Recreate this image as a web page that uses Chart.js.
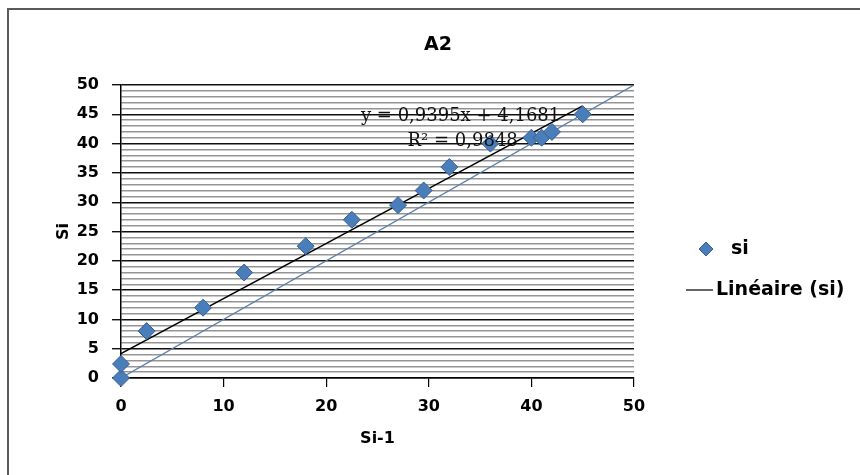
<!DOCTYPE html>
<html>
<head>
<meta charset="utf-8">
<script src="https://cdn.jsdelivr.net/npm/chart.js@4/dist/chart.umd.min.js"></script>
<style>
  html, body { margin: 0; padding: 0; background: #fff; }
  #wrap { position: relative; width: 860px; height: 475px; }
  #frame { position: absolute; left: 7px; top: 8px; right: 0; bottom: 0;
           border-left: 2px solid #5a5a5a; border-top: 2px solid #5a5a5a; pointer-events: none; }
</style>
</head>
<body>
<div id="wrap">
  <canvas id="c" width="860" height="475"></canvas>
  <div id="frame"></div>
</div>
<script>
// Observed pairs: previous value (Si-1) and current value (Si)
const siPrev = [0, 0, 2.5, 8, 12, 18, 22.5, 27, 29.5, 32, 36, 40, 41, 42, 45];
const siCur  = [0, 2.4, 8, 12, 18, 22.5, 27, 29.5, 32, 36, 40, 41, 41, 42, 45];

// Linear trend fitted to the series
const trendSlope = 0.9395;
const trendIntercept = 4.1681;
const trendR2 = 0.9848;

// Reference line Si = Si-1
const diagX = [0, 50];

const fmt = v => v.toFixed(4).replace('.', ',');
const eqText = 'y = ' + fmt(trendSlope) + 'x + ' + fmt(trendIntercept);
const r2Text = 'R² = ' + fmt(trendR2);

const scatterPts = siPrev.map((x, i) => ({ x: x, y: siCur[i] }));
const trendX = [Math.min(...siPrev), Math.max(...siPrev)];
const trendPts = trendX.map(x => ({ x: x, y: trendSlope * x + trendIntercept }));
const diagPts = diagX.map(x => ({ x: x, y: x }));

const tickFont = { family: 'DejaVu Sans', size: 16, weight: 'bold' };
const titleFont = { family: 'DejaVu Sans', size: 16, weight: 'bold' };
const markerFill = '#4a7ebb';
const markerEdge = '#385f8f';

// Chart title, trend equation and legend
const annotations = {
  id: 'annotations',
  afterDraw(chart) {
    const ctx = chart.ctx;
    const xs = chart.scales.x, ys = chart.scales.y;
    ctx.save();
    ctx.textBaseline = 'middle';

    ctx.fillStyle = '#000';
    ctx.textAlign = 'center';
    ctx.font = 'bold 19px "DejaVu Sans"';
    ctx.fillText('A2', 438, 45);

    ctx.fillStyle = '#111';
    ctx.font = '18px "DejaVu Serif"';
    ctx.fillText(eqText, xs.getPixelForValue(33.1), ys.getPixelForValue(44.7));
    ctx.fillText(r2Text, xs.getPixelForValue(33.3), ys.getPixelForValue(40.4));

    // legend
    const lx = 706, ly1 = 249, ly2 = 290;
    ctx.beginPath();
    ctx.moveTo(lx, ly1 - 7); ctx.lineTo(lx + 7, ly1); ctx.lineTo(lx, ly1 + 7); ctx.lineTo(lx - 7, ly1);
    ctx.closePath();
    ctx.fillStyle = markerFill; ctx.fill();
    ctx.strokeStyle = markerEdge; ctx.lineWidth = 1; ctx.stroke();
    ctx.beginPath();
    ctx.moveTo(686, ly2); ctx.lineTo(713, ly2);
    ctx.strokeStyle = '#000'; ctx.lineWidth = 1.2; ctx.stroke();
    ctx.fillStyle = '#000';
    ctx.font = 'bold 19px "DejaVu Sans"';
    ctx.textAlign = 'left';
    ctx.fillText('si', 731, ly1);
    ctx.fillText('Linéaire (si)', 716, ly2);
    ctx.restore();
  }
};

new Chart(document.getElementById('c'), {
  type: 'scatter',
  data: {
    datasets: [
      {
        label: 'Si = Si-1',
        type: 'line',
        data: diagPts,
        borderColor: '#5d7fa6',
        borderWidth: 1.3,
        pointRadius: 0,
        fill: false,
        order: 3
      },
      {
        label: 'Linéaire (si)',
        type: 'line',
        data: trendPts,
        borderColor: '#000',
        borderWidth: 1.5,
        pointRadius: 0,
        fill: false,
        order: 2
      },
      {
        label: 'si',
        data: scatterPts,
        pointStyle: 'rectRot',
        pointRadius: 8.5,
        backgroundColor: markerFill,
        borderColor: markerEdge,
        borderWidth: 1,
        clip: false,
        order: 1
      }
    ]
  },
  options: {
    responsive: false,
    animation: false,
    layout: { padding: { left: 50, right: 226, top: 85, bottom: 23 } },
    plugins: {
      legend: { display: false },
      tooltip: { enabled: false },
      title: { display: false }
    },
    scales: {
      x: {
        type: 'linear',
        min: 0, max: 50,
        afterFit: s => { s.height = 475 - 378 - 23; },
        ticks: { stepSize: 10, color: '#000', font: tickFont, padding: 10 },
        grid: { drawOnChartArea: false, drawTicks: true, tickLength: 9, color: '#000', lineWidth: 1.2 },
        border: { color: '#000', width: 1.5 },
        title: { display: true, text: 'Si-1', color: '#000', font: titleFont }
      },
      y: {
        type: 'linear',
        min: 0, max: 50,
        afterFit: s => { s.width = 121 - 50; },
        ticks: {
          stepSize: 1, autoSkip: false, color: '#000', font: tickFont, padding: 13,
          callback: v => (v % 5 === 0 ? v : '')
        },
        grid: {
          color: c => (c.tick && c.tick.value % 5 === 0 ? '#111' : '#959595'),
          tickColor: c => (c.tick && c.tick.value % 5 === 0 ? '#111' : 'rgba(0,0,0,0)'),
          lineWidth: 1.4,
          tickLength: 9
        },
        border: { color: '#000', width: 1.5 },
        title: { display: true, text: 'Si', color: '#000', font: titleFont }
      }
    }
  },
  plugins: [annotations]
});
</script>
</body>
</html>
